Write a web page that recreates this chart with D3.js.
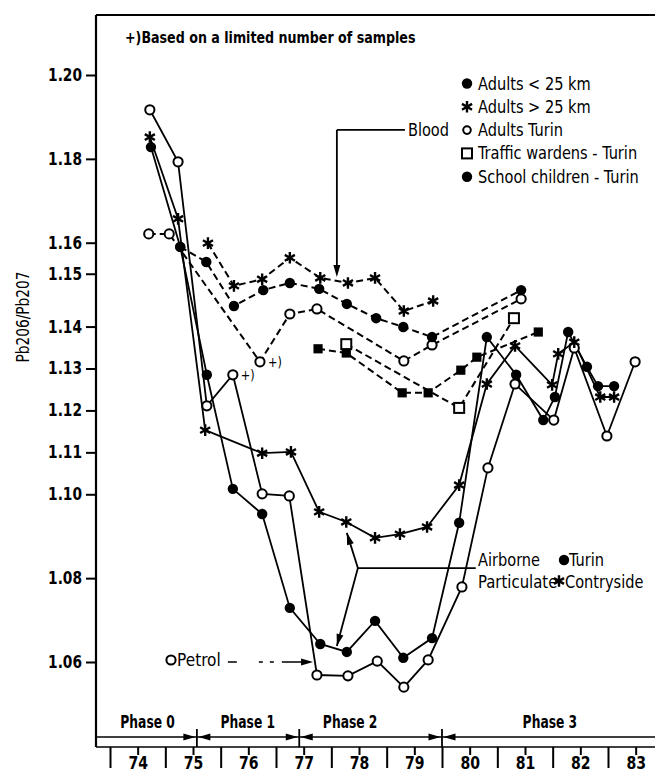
<!DOCTYPE html>
<html>
<head>
<meta charset="utf-8">
<script src="https://cdn.jsdelivr.net/npm/d3@7"></script>
<style>
  body { margin: 0; background: #fff; }
  svg text { font-family: "DejaVu Sans Condensed", "DejaVu Sans", sans-serif; fill: #000; }
</style>
</head>
<body>
<svg id="chart" width="655" height="775"></svg>
<script>
// Valeurs : [année, Pb206/Pb207]
const yearLabels = ["74", "75", "76", "77", "78", "79", "80", "81", "82", "83"];
const yTickValues = [1.20, 1.18, 1.16, 1.1526, 1.14, 1.13, 1.12, 1.11, 1.10, 1.08, 1.06];
const yTickLabels = ["1.20", "1.18", "1.16", "1.15", "1.14", "1.13", "1.12", "1.11", "1.10", "1.08", "1.06"];

const phaseNames = ["Phase 0", "Phase 1", "Phase 2", "Phase 3"];
const phaseBounds = [75.57, 77.42, 80.0];
const phaseLabelAt = [74.68, 76.49, 78.34, 81.95];

// Particules en suspension (traits pleins)
const airborneTurin = [[74.74, 1.1828], [75.27, 1.1590], [75.75, 1.1285], [76.22, 1.1013], [76.75, 1.0953],
  [77.25, 1.0729], [77.80, 1.0643], [78.28, 1.0624], [78.79, 1.0698], [79.30, 1.0610], [79.82, 1.0657],
  [80.31, 1.0932], [80.81, 1.1375], [81.34, 1.1285], [81.83, 1.1177], [82.04, 1.1232], [82.28, 1.1387],
  [82.62, 1.1304], [82.82, 1.1258], [83.11, 1.1258]];
const airborneCountry = [[74.72, 1.1852], [75.23, 1.1657], [75.72, 1.1153], [76.75, 1.1098], [77.27, 1.1101],
  [77.78, 1.0958], [78.27, 1.0934], [78.79, 1.0896], [79.24, 1.0905], [79.73, 1.0922], [80.31, 1.1022],
  [80.81, 1.1263], [81.32, 1.1354], [81.99, 1.1261], [82.10, 1.1335], [82.39, 1.1363], [82.86, 1.1232],
  [83.11, 1.1232]];
const petrol = [[74.72, 1.1917], [75.23, 1.1793], [75.75, 1.1211], [76.22, 1.1285], [76.75, 1.1001],
  [77.24, 1.0996], [77.74, 1.0569], [78.30, 1.0567], [78.83, 1.0602], [79.31, 1.0540], [79.75, 1.0605],
  [80.36, 1.0779], [80.83, 1.1063], [81.32, 1.1263], [82.02, 1.1177], [82.39, 1.1349], [82.98, 1.1139],
  [83.49, 1.1316]];

// Sang (tirets)
const adultsNear = [[75.27, 1.1590], [75.74, 1.1554], [76.24, 1.1449], [76.77, 1.1487], [77.25, 1.1504],
  [77.78, 1.1490], [78.28, 1.1454], [78.81, 1.1420], [79.30, 1.1399], [79.82, 1.1375], [81.43, 1.1487]];
const adultsFar = [[75.77, 1.1599], [76.24, 1.1497], [76.75, 1.1513], [77.25, 1.1564],
  [77.80, 1.1516], [78.30, 1.1504], [78.79, 1.1516], [79.31, 1.1437], [79.84, 1.1461]];
const adultsTurin = [[74.70, 1.1621], [75.07, 1.1621], [76.71, 1.1316], [77.25, 1.1430], [77.74, 1.1442],
  [79.31, 1.1318], [79.82, 1.1356], [81.43, 1.1466]];
const trafficWardens = [[78.27, 1.1358], [80.31, 1.1206], [81.30, 1.1420]];
const schoolChildren = [[77.76, 1.1347], [78.27, 1.1337], [79.28, 1.1242], [79.75, 1.1242], [80.34, 1.1296],
  [80.63, 1.1327], [81.74, 1.1387]];

const legendItems = [
  ["filled", "Adults < 25 km"],
  ["star", "Adults > 25 km"],
  ["openSmall", "Adults Turin"],
  ["square", "Traffic wardens - Turin"],
  ["filled", "School children - Turin"]
];

const svg = d3.select("#chart");
const x = d3.scaleLinear().domain([74, 83]).range([110, 608]);
const y = d3.scaleLinear().domain([1.06, 1.20]).range([662, 75]);
const frameLeft = 96, frameTop = 15, frameRight = 655, stripTop = 737, axisY = 747;

// texte compressé horizontalement (la police d'origine est étroite)
function label(g, tx, ty, str, size = 18, weight = "normal", sx = 0.9, anchor = "start") {
  return g.append("text").attr("transform", `translate(${tx},${ty}) scale(${sx},1)`)
    .attr("text-anchor", anchor).attr("font-size", size).attr("font-weight", weight).text(str);
}

function drawMarker(g, shape, cx, cy) {
  if (shape === "filled") {
    g.append("circle").attr("cx", cx).attr("cy", cy).attr("r", 5.2).attr("fill", "#000");
  } else if (shape === "open" || shape === "openSmall") {
    g.append("circle").attr("cx", cx).attr("cy", cy).attr("r", shape === "open" ? 4.6 : 3.8)
      .attr("fill", "#fff").attr("stroke", "#000").attr("stroke-width", 2);
  } else if (shape === "star") {
    g.append("path").attr("d", d3.symbol().type(d3.symbolAsterisk).size(95)())
      .attr("transform", `translate(${cx},${cy})`)
      .attr("fill", "none").attr("stroke", "#000").attr("stroke-width", 2.4);
  } else if (shape === "square") {
    g.append("rect").attr("x", cx - 5).attr("y", cy - 5).attr("width", 10).attr("height", 10)
      .attr("fill", "#fff").attr("stroke", "#000").attr("stroke-width", 2);
  } else if (shape === "fsquare") {
    g.append("rect").attr("x", cx - 4.6).attr("y", cy - 4.6).attr("width", 9.2).attr("height", 9.2)
      .attr("fill", "#000");
  }
}

function arrowHead(g, tx, ty, fx, fy, len = 12, half = 3.6) {
  const a = Math.atan2(ty - fy, tx - fx);
  const bx = tx - len * Math.cos(a), by = ty - len * Math.sin(a);
  const px = half * Math.sin(a), py = -half * Math.cos(a);
  g.append("path").attr("d", `M${tx},${ty}L${bx + px},${by + py}L${bx - px},${by - py}Z`).attr("fill", "#000");
}

// Cadre
svg.append("line").attr("x1", frameLeft).attr("y1", frameTop).attr("x2", frameRight).attr("y2", frameTop)
  .attr("stroke", "#000").attr("stroke-width", 2);
svg.append("line").attr("x1", frameLeft).attr("y1", frameTop).attr("x2", frameLeft).attr("y2", axisY)
  .attr("stroke", "#000").attr("stroke-width", 2.2);

// Axe Y
const yAxis = svg.append("g").attr("transform", `translate(${frameLeft},0)`)
  .call(d3.axisLeft(y).tickValues(yTickValues).tickFormat((d, i) => yTickLabels[i]).tickSize(10).tickPadding(4));
yAxis.select(".domain").remove();
yAxis.selectAll("line").attr("stroke-width", 2);
yAxis.selectAll("text").attr("font-size", 17).attr("font-weight", "bold").attr("font-family", null)
  .attr("x", 0).attr("transform", "translate(-14,0) scale(0.9,1)");

label(svg.append("g").attr("transform", "translate(29,317) rotate(-90)"), 0, 0, "Pb206/Pb207", 17, "normal", 0.9, "middle");

// Bande des phases et axe X
svg.append("line").attr("x1", frameLeft).attr("y1", stripTop).attr("x2", frameRight).attr("y2", stripTop)
  .attr("stroke", "#000").attr("stroke-width", 1.6);
svg.append("line").attr("x1", frameLeft).attr("y1", axisY).attr("x2", frameRight).attr("y2", axisY)
  .attr("stroke", "#000").attr("stroke-width", 1.6);

const phaseG = svg.append("g");
phaseBounds.forEach(b => {
  const bx = x(b);
  phaseG.append("line").attr("x1", bx).attr("y1", 729).attr("x2", bx).attr("y2", axisY)
    .attr("stroke", "#000").attr("stroke-width", 1.8);
  arrowHead(phaseG, bx - 1.5, stripTop, bx - 20, stripTop);
  arrowHead(phaseG, bx + 1.5, stripTop, bx + 20, stripTop);
});
phaseNames.forEach((p, i) => label(phaseG, x(phaseLabelAt[i]), 728, p, 18, "bold", 0.76, "middle"));

const xTall = svg.append("g").attr("transform", `translate(0,${axisY})`)
  .call(d3.axisBottom(x).tickValues(d3.range(74, 84)).tickSize(21).tickFormat(""));
xTall.select(".domain").remove();
xTall.selectAll("line").attr("stroke-width", 2);

const xMid = svg.append("g").attr("transform", `translate(0,${axisY})`)
  .call(d3.axisBottom(x).tickValues(yearLabels.map((d, i) => 74.5 + i))
    .tickFormat((d, i) => yearLabels[i]).tickSize(8).tickPadding(0));
xMid.select(".domain").remove();
xMid.selectAll("line").attr("stroke-width", 2);
xMid.selectAll("text").attr("font-size", 17).attr("font-weight", "bold").attr("font-family", null)
  .attr("dy", null).attr("y", 0).attr("transform", "translate(0,22) scale(0.92,1)");

// Séries
const series = [
  { data: adultsTurin, shape: "open", dash: "7,4" },
  { data: adultsFar, shape: "star", dash: "7,4" },
  { data: adultsNear, shape: "filled", dash: "7,4" },
  { data: trafficWardens, shape: "square", dash: "7,4" },
  { data: schoolChildren, shape: "fsquare", dash: "7,4" },
  { data: petrol, shape: "open", dash: null },
  { data: airborneCountry, shape: "star", dash: null },
  { data: airborneTurin, shape: "filled", dash: null }
];
const line = d3.line().x(d => x(d[0])).y(d => y(d[1]));
const linesG = svg.append("g");
series.forEach(s => {
  linesG.append("path").attr("d", line(s.data)).attr("fill", "none").attr("stroke", "#000")
    .attr("stroke-width", s.dash ? 2 : 1.8).attr("stroke-dasharray", s.dash);
});
const marksG = svg.append("g");
series.forEach(s => s.data.forEach(d => drawMarker(marksG, s.shape, x(d[0]), y(d[1]))));

// Points basés sur peu d'échantillons
[[petrol, 3], [adultsTurin, 2]].forEach(([s, i]) => {
  label(svg, x(s[i][0]) + 8, y(s[i][1]) + 5, "+)", 14, "normal", 0.9);
});
label(svg, 125, 43, "+)Based on a limited number of samples", 16, "bold", 0.88);

// Légende sang
const legG = svg.append("g");
legendItems.forEach(([shape, text], i) => {
  const by = 89.5 + i * 23.3;
  drawMarker(legG, shape, 467, by - 6);
  label(legG, 478, by, text, 18, "normal", 0.9);
});

// Annotations
const ann = svg.append("g").attr("stroke", "#000").attr("stroke-width", 1.8);
const bloodAnchor = [78.10, 1.1869], bloodTip = [78.10, 1.1518], bloodEnd = [79.33, 1.1869];
ann.append("line").attr("x1", x(bloodAnchor[0])).attr("y1", y(bloodAnchor[1]))
  .attr("x2", x(bloodEnd[0])).attr("y2", y(bloodEnd[1]));
ann.append("line").attr("x1", x(bloodAnchor[0])).attr("y1", y(bloodAnchor[1]))
  .attr("x2", x(bloodTip[0])).attr("y2", y(bloodTip[1]) - 8);
arrowHead(svg, x(bloodTip[0]), y(bloodTip[1]), x(bloodAnchor[0]), y(bloodAnchor[1]), 12, 3.5);
label(svg, x(bloodEnd[0]) + 3, 136, "Blood", 18, "normal", 0.9);

const airJunction = [78.48, 1.0824], airUpTip = [78.28, 1.0908], airDownTip = [78.10, 1.0638], airEnd = [80.61, 1.0824];
ann.append("line").attr("x1", x(airJunction[0])).attr("y1", y(airJunction[1]))
  .attr("x2", x(airEnd[0])).attr("y2", y(airEnd[1]));
[airUpTip, airDownTip].forEach(t => {
  ann.append("line").attr("x1", x(airJunction[0])).attr("y1", y(airJunction[1]))
    .attr("x2", x(t[0])).attr("y2", y(t[1]));
  arrowHead(svg, x(t[0]), y(t[1]), x(airJunction[0]), y(airJunction[1]), 12, 3.5);
});
const airText = svg.append("g");
label(airText, 478, 566, "Airborne", 18, "normal", 0.9);
drawMarker(airText, "filled", 564, 560);
label(airText, 569, 566, "Turin", 18, "normal", 0.9);
label(airText, 478, 588, "Particulate", 18, "normal", 0.92);
drawMarker(airText, "star", 559, 581);
label(airText, 565, 588, "Contryside", 18, "normal", 0.9);

const petrolStart = [76.13, 1.06], petrolTip = [77.67, 1.06];
drawMarker(svg, "open", 171, 660);
label(svg, 177, 666, "Petrol", 18, "normal", 0.95);
ann.append("line").attr("x1", x(petrolStart[0])).attr("y1", y(petrolStart[1]))
  .attr("x2", x(petrolTip[0]) - 8).attr("y2", y(petrolTip[1]))
  .attr("stroke-width", 1.6).attr("stroke-dasharray", "9,22,4,7,4,8,40");
arrowHead(svg, x(petrolTip[0]), y(petrolTip[1]), x(petrolStart[0]), y(petrolStart[1]), 12, 3.5);
</script>
</body>
</html>
